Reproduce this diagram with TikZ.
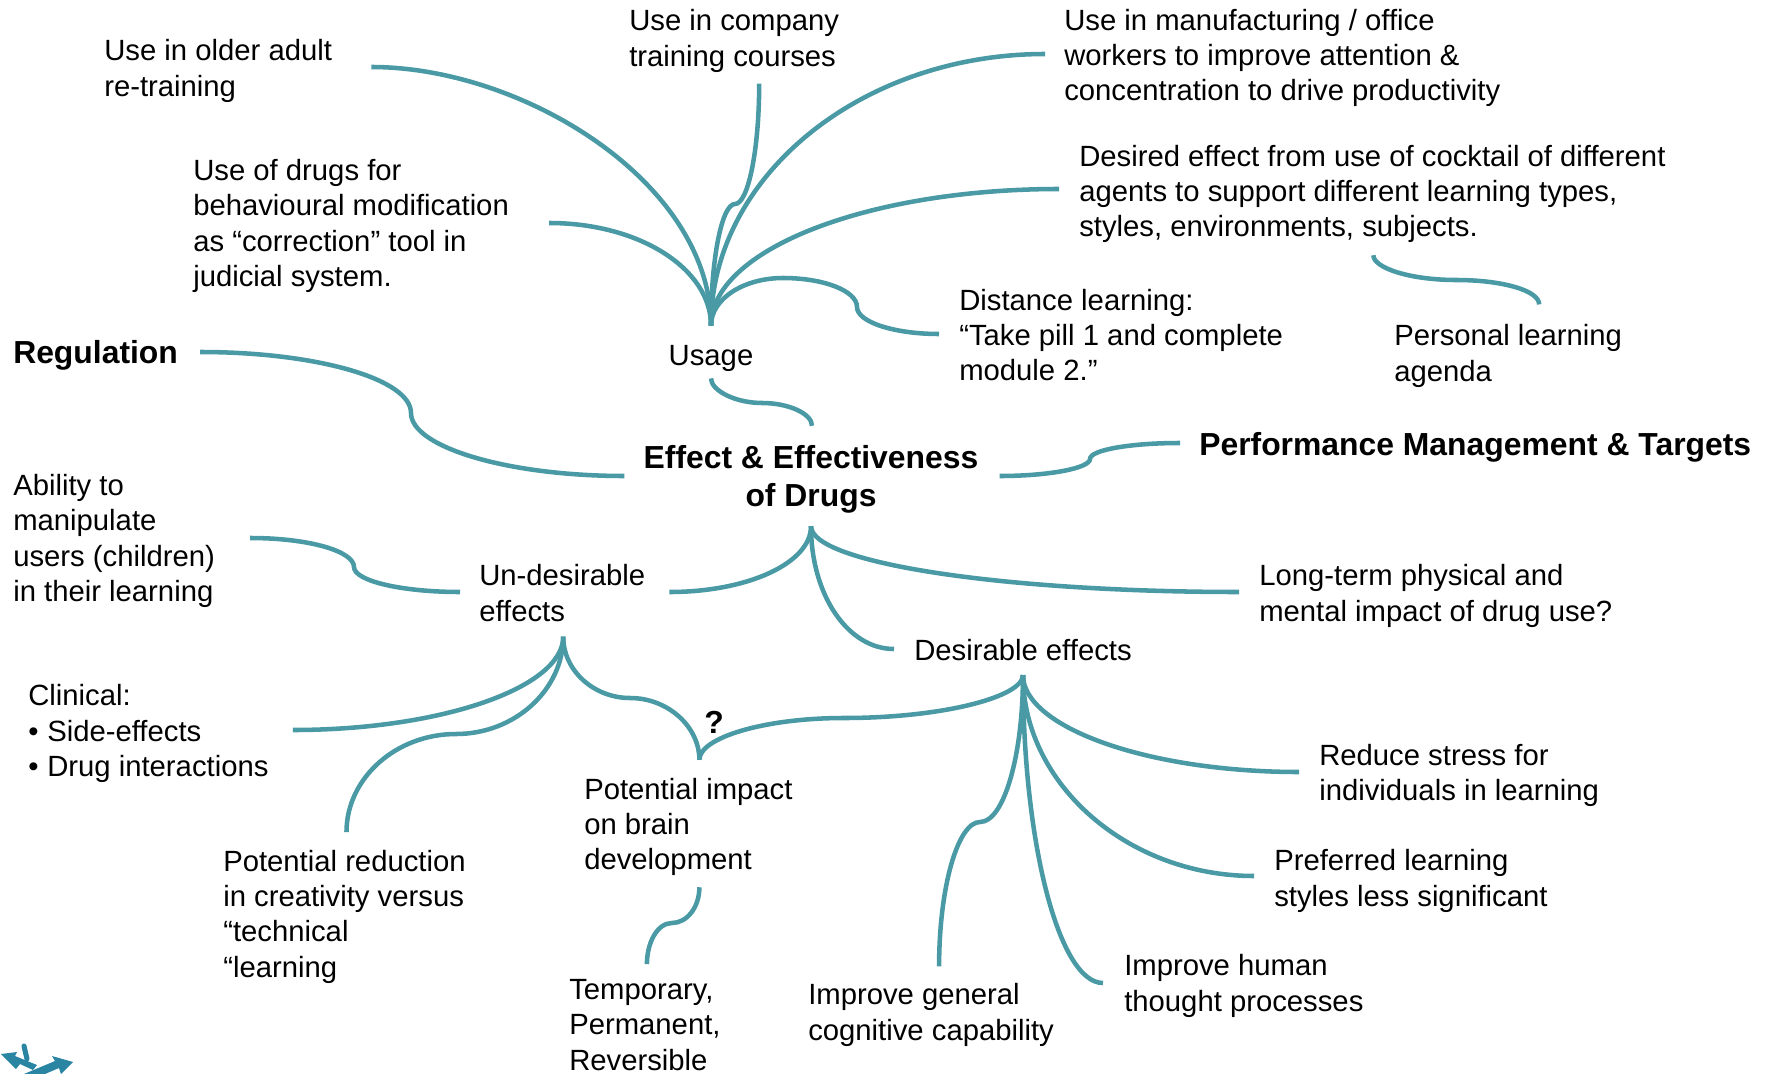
\documentclass[tikz,border=0pt]{standalone}
\usepackage{fontspec}
\setmainfont{Liberation Sans}
\usetikzlibrary{positioning}
\definecolor{linkteal}{HTML}{4A9AA5}
\definecolor{logoteal}{HTML}{2A85A3}
\tikzset{
  basic/.style  = {inner sep=0pt, align=left, anchor=west},
  txt/.style    = {basic, font=\fontsize{21.95}{26.5}\selectfont},
  head/.style   = {basic, font=\fontsize{23.9}{28.5}\selectfont\bfseries},
  link/.style   = {draw=linkteal, line width=3.4pt}
}

\begin{document}
\begin{tikzpicture}[x=0.75pt, y=-0.75pt]
	\useasboundingbox (0,0) rectangle (1767,1074);

	% main topic and the nodes around it
	\node[head, align=center, anchor=center] (effect) at (811,479.5) {Effect \& Effectiveness\\of Drugs};
	\node[head] (regulation) at (13,355) {Regulation};
	\node[head] (performance) at (1199,447) {Performance Management \& Targets};
	\node[txt, anchor=center] (usage) at (711,358) {Usage};
	\node[txt] (undesirable) at (479,593) {Un-desirable\\effects};
	\node[txt] (desirable) at (914,650) {Desirable effects};
	\node[txt] (longterm) at (1259,596) {Long-term physical and\\mental impact of drug use?};

	% leaves of usage
	\node[txt] (older) at (104,71) {Use in older adult\\re-training};
	\node[txt] (company) at (629,41) {Use in company\\training courses};
	\node[txt] (manufacturing) at (1064,58) {Use in manufacturing / office\\workers to improve attention \&\\concentration to drive productivity};
	\node[txt] (correction) at (193,226) {Use of drugs for\\behavioural modification\\as “correction” tool in\\judicial system.};
	\node[txt] (cocktail) at (1079,194) {Desired effect from use of cocktail of different\\agents to support different learning types,\\styles, environments, subjects.};
	\node[txt] (distance) at (959,335) {Distance learning:\\“Take pill 1 and complete\\module 2.”};
	\node[txt] (agenda) at (1394,356) {Personal learning\\agenda};

	% leaves of the un-desirable effects
	\node[txt] (ability) at (13,541) {Ability to\\manipulate\\users (children)\\in their learning};
	\node[txt] (clinical) at (28,733.5) {Clinical:\\•\hspace{0.3em}Side-effects\\•\hspace{0.3em}Drug interactions};
	\node[txt] (creativity) at (223,916.5) {Potential reduction\\in creativity versus\\“technical\\“learning};
	\node[txt] (impact) at (584,827) {Potential impact\\on brain\\development};
	\node[head, anchor=center] (question) at (714,722) {?};
	\node[txt] (temporary) at ([shift={(-15,198)}]impact.west) {Temporary,\\Permanent,\\Reversible};

	% leaves of the desirable effects
	\node[txt] (general) at (808,1015) {Improve general\\cognitive capability};
	\node[txt] (human) at (1124,986) {Improve human\\thought processes};
	\node[txt] (preferred) at (1274,881) {Preferred learning\\styles less significant};
	\node[txt] (stress) at (1319,775.5) {Reduce stress for\\individuals in learning};

	% lines from usage to its leaves
	\draw[link] ([shift={(0,-19)}]usage.north) .. controls +(0,-143) and +(152,0) .. ([shift={(39,-4)}]older.east);
	\draw[link] ([shift={(0,-19)}]usage.north) .. controls +(0,-57) and +(90,0) .. ([shift={(40,-3)}]correction.east);
	\draw[link] ([shift={(0,-19)}]usage.north) .. controls +(0,-68) and +(-13,0) .. (735,204) .. controls +(13,0) and +(0,67) .. ([shift={(25,11)}]company.south);
	\draw[link] ([shift={(0,-19)}]usage.north) .. controls +(0,-150) and +(-183,0) .. ([shift={(-19,-4)}]manufacturing.west);
	\draw[link] ([shift={(0,-19)}]usage.north) .. controls +(0,-76) and +(-191,0) .. ([shift={(-20,-5)}]cocktail.west);
	\draw[link] ([shift={(0,-19)}]usage.north) .. controls +(0,-27) and +(-39,0) .. (783,278) .. controls +(41,0) and +(0,-16) .. (857,307) .. controls +(0,15) and +(-45,0) .. ([shift={(-20,-1)}]distance.west);
	\draw[link] ([shift={(1,12)}]cocktail.south) .. controls +(0,13) and +(-45,0) .. (1456,280) .. controls +(46,0) and +(0,-14) .. ([shift={(31,-20)}]agenda.north);
	\draw[link] ([shift={(0,7)}]usage.south) .. controls +(0,12) and +(-27,0) .. (762,403) .. controls +(27,0) and +(0,-12) .. ([shift={(1,-19.5)}]effect.north);

	% lines from the main topic
	\draw[link] ([shift={(22,-3)}]regulation.east) .. controls +(116,0) and +(0,-34) .. (411,413) .. controls +(0,34) and +(-117,0) .. ([shift={(-19,-3.5)}]effect.west);
	\draw[link] ([shift={(21,-3.5)}]effect.east) .. controls +(50,0) and +(0,9) .. (1090,459) .. controls +(0,-9) and +(-50,0) .. ([shift={(-19,-4)}]performance.west);
	\draw[link] ([shift={(0,12.5)}]effect.south) .. controls +(0,37) and +(78,0) .. ([shift={(24,-1)}]undesirable.east);
	\draw[link] ([shift={(0,12.5)}]effect.south) .. controls +(0,69) and +(-46,0) .. ([shift={(-20,-1)}]desirable.west);
	\draw[link] ([shift={(0,12.5)}]effect.south) .. controls +(0,37) and +(-235,0) .. ([shift={(-20,-4)}]longterm.west);

	% lines from the un-desirable effects
	\draw[link] ([shift={(35,-3)}]ability.east) .. controls +(58,0) and +(0,-16) .. (354,567) .. controls +(0,14) and +(-58,0) .. ([shift={(-19,-1)}]undesirable.west);
	\draw[link] ([shift={(1,15)}]undesirable.south) .. controls +(0,51) and +(148,0) .. ([shift={(24,-3.5)}]clinical.east);
	\draw[link] ([shift={(1,15)}]undesirable.south) .. controls +(0,53) and +(59,0) .. (456,734) .. controls +(-60,0) and +(0,-54) .. ([shift={(2,-17.5)}]creativity.north);
	\draw[link] ([shift={(1,15)}]undesirable.south) .. controls +(0,34) and +(-36,0) .. (630,698) .. controls +(38,0) and +(0,-33) .. ([shift={(11,-18)}]impact.north);
	\draw[link] ([shift={(11,-18)}]impact.north) .. controls +(0,-22) and +(-80,0) .. (844,718) .. controls +(98,0) and +(0,22) .. ([shift={(0,14)}]desirable.south);
	\draw[link] ([shift={(11,11)}]impact.south) .. controls +(0,20) and +(15,0) .. (672,923) .. controls +(-15,0) and +(0,-21) .. ([shift={(2,-15)}]temporary.north);

	% lines from the desirable effects
	\draw[link] ([shift={(0,14)}]desirable.south) .. controls +(0,80) and +(24,0) .. (980,822) .. controls +(-22,0) and +(0,-80) .. ([shift={(8,-17)}]general.north);
	\draw[link] ([shift={(0,14)}]desirable.south) .. controls +(0,168) and +(-44,0) .. ([shift={(-21,-3)}]human.west);
	\draw[link] ([shift={(0,14)}]desirable.south) .. controls +(0,109) and +(-126,0) .. ([shift={(-20,-5)}]preferred.west);
	\draw[link] ([shift={(0,14)}]desirable.south) .. controls +(0,52) and +(-152,0) .. ([shift={(-20,-3.5)}]stress.west);

	% small logo, cut off by the lower edge
	\begin{scope}
	\clip (0,1040) rectangle (90,1074);
	\fill[logoteal] (1,1054) -- (17,1052) -- (15,1056) -- (37,1065) -- (33,1070) -- (20,1064) -- (16,1069) -- cycle;
	\draw[logoteal, line width=3.8pt, line cap=round] (24,1046) -- (27,1059);
	\fill[logoteal] (73,1062) -- (52,1056) -- (55,1061) -- (24,1074) -- (45,1074) -- (59,1068) -- (61,1074) -- cycle;
	\end{scope}
\end{tikzpicture}
\end{document}
